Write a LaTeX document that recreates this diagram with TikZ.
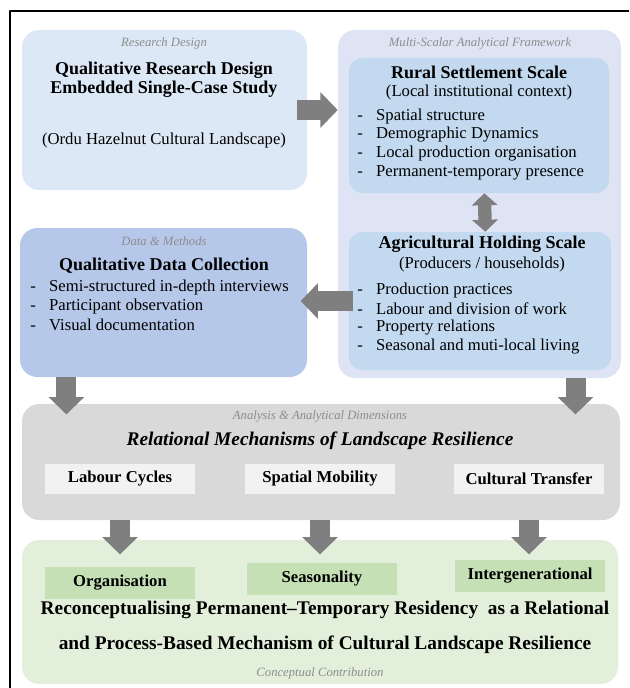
\documentclass[tikz,border=0pt]{standalone}
\usepackage{fontspec}
\setmainfont{Liberation Serif}
\usetikzlibrary{arrows.meta,positioning}

\definecolor{designblue}{HTML}{DCE8F5}
\definecolor{framelilac}{HTML}{DFE4F5}
\definecolor{scaleblue}{HTML}{C2D9EF}
\definecolor{datablue}{HTML}{B6C8E9}
\definecolor{analysisgray}{HTML}{D9D9D9}
\definecolor{dimwhite}{HTML}{F2F2F2}
\definecolor{contribgreen}{HTML}{E2EFDA}
\definecolor{outcomegreen}{HTML}{C5E0B4}
\definecolor{arrowgray}{HTML}{7F7F7F}
\definecolor{captiongray}{HTML}{8C8C8C}

\begin{document}
\begin{tikzpicture}[x=0.75pt, y=-0.75pt, line join=round,
    panel/.style={rounded corners=13pt, inner sep=0pt},
    caption/.style={font=\fontsize{9.5}{11}\selectfont\itshape, text=captiongray},
    heading/.style={font=\fontsize{13.5}{14.25}\selectfont\bfseries, align=center},
    body/.style={font=\fontsize{12.5}{14.25}\selectfont},
    entry/.style={body, anchor=west, inner sep=0pt},
    dimbox/.style={minimum width=112.5pt, minimum height=22.5pt, inner sep=0pt,
      font=\fontsize{12.5}{14}\selectfont\bfseries},
    bigtitle/.style={font=\fontsize{14.5}{16}\selectfont\bfseries},
    blockarrow/.style={line width=15pt, draw=arrowgray, -{Triangle[length=13pt,width=26pt]}},
    twoway/.style={line width=10pt, draw=arrowgray,
      {Triangle[length=9pt,width=19pt]}-{Triangle[length=9pt,width=19pt]}}]
  \useasboundingbox (0,0) rectangle (629,688);
  \fill[white] (0,0) rectangle (629,688);
  \draw[line width=1.5pt] (10,688) -- (10,11) -- (629,11);

  % research design
  \node[panel, fill=designblue, minimum width=213.75pt, minimum height=120pt] (design) at (164.5,110) {};
  \node[caption] (designcap) at (164,43) {Research Design};
  \node[heading] (designhead) at (164,80) {Qualitative Research Design\\Embedded Single-Case Study};
  \node[body] (designcase) at (164,140) {(Ordu Hazelnut Cultural Landscape)};

  % multi-scalar framework and its two scales
  \node[panel, fill=framelilac, minimum width=212.25pt, minimum height=261pt] (framework) at (479.5,204) {};
  \node[caption] (frameworkcap) at (480,43) {Multi-Scalar Analytical Framework};
  \node[panel, rounded corners=10pt, fill=scaleblue, minimum width=195pt, minimum height=101.25pt] (rural) at (479,125.5) {};
  \node[heading] (ruralhead) at (479,72) {Rural Settlement Scale};
  \node[body] (ruralsub) at (479,92) {(Local institutional context)};
  \foreach \txt [count=\i] in {Spatial structure, Demographic Dynamics,
      Local production organisation, Permanent-temporary presence}
    \node[entry] (rural-\i) at (357,97+19*\i) {-\hspace{10pt}\txt};

  \node[panel, rounded corners=10pt, fill=scaleblue, minimum width=196.5pt, minimum height=103.5pt] (holding) at (480,301) {};
  \node[heading] (holdinghead) at (482,244) {Agricultural Holding Scale};
  \node[body] (holdingsub) at (482,264) {(Producers / households)};
  \foreach \txt [count=\i] in {Production practices, Labour and division of work,
      Property relations, Seasonal and muti-local living}
    \node[entry] (holding-\i) at (357,271+19*\i) {-\hspace{10pt}\txt};

  % data and methods
  \node[panel, fill=datablue, minimum width=215.25pt, minimum height=111.75pt] (data) at (163.5,302.5) {};
  \node[caption] (datacap) at (164,241) {Data \& Methods};
  \node[heading] (datahead) at (164,266) {Qualitative Data Collection};
  \foreach \txt [count=\i] in {Semi-structured in-depth interviews,
      Participant observation, Visual documentation}
    \node[entry] (data-\i) at (30,268+19*\i) {-\hspace{10pt}\txt};

  % analysis
  \node[panel, fill=analysisgray, minimum width=448.5pt, minimum height=87pt] (analysis) at (321,462) {};
  \node[caption] (analysiscap) at (320,416) {Analysis \& Analytical Dimensions};
  \node[bigtitle, font=\fontsize{14.5}{16}\selectfont\bfseries\itshape] (analysishead) at (320,441)
    {Relational Mechanisms of Landscape Resilience};
  \node[dimbox, fill=dimwhite] (labour) at (120,479) {Labour Cycles};
  \node[dimbox, fill=dimwhite] (mobility) at (320,479) {Spatial Mobility};
  \node[dimbox, fill=dimwhite] (transfer) at (529,479) {Cultural Transfer};

  % conceptual contribution
  \node[panel, fill=contribgreen, minimum width=447pt, minimum height=108pt] (contribution) at (320,612) {};
  \node[dimbox, fill=outcomegreen, minimum height=24pt] (organisation) at (120,583) {Organisation};
  \node[dimbox, fill=outcomegreen, minimum height=24pt] (seasonality) at (322,579) {Seasonality};
  \node[dimbox, fill=outcomegreen, minimum height=24pt] (intergen) at (530,576) {Intergenerational};
  \node[bigtitle] (claim1) at (325,610) {Reconceptualising Permanent--Temporary Residency\ \ as a Relational};
  \node[bigtitle] (claim2) at (325,645) {and Process-Based Mechanism of Cultural Landscape Resilience};
  \node[caption] (contributioncap) at (320,673) {Conceptual Contribution};

  % connectors
  \draw[blockarrow] ([xshift=-7.5pt]design.east) -- (design.east -| framework.west);
  \draw[twoway] ([xshift=4pt]rural.south) -- ([xshift=4pt]holding.north);
  \draw[blockarrow, shorten >=-5pt] ([xshift=3pt]holding.west) -- (holding.west -| data.east);
  \draw[blockarrow, shorten >=-8pt] ([xshift=35pt]data.south west) -- ([xshift=35pt]data.south west |- analysis.north);
  \draw[blockarrow, shorten >=-8pt] ([xshift=72pt]framework.south) -- ([xshift=72pt]framework.south |- analysis.north);
  \draw[blockarrow, shorten >=-11pt] (labour.south |- analysis.south) -- (labour.south |- contribution.north);
  \draw[blockarrow, shorten >=-11pt] (mobility.south |- analysis.south) -- (mobility.south |- contribution.north);
  \draw[blockarrow, shorten >=-11pt] (transfer.south |- analysis.south) -- (transfer.south |- contribution.north);
\end{tikzpicture}
\end{document}
